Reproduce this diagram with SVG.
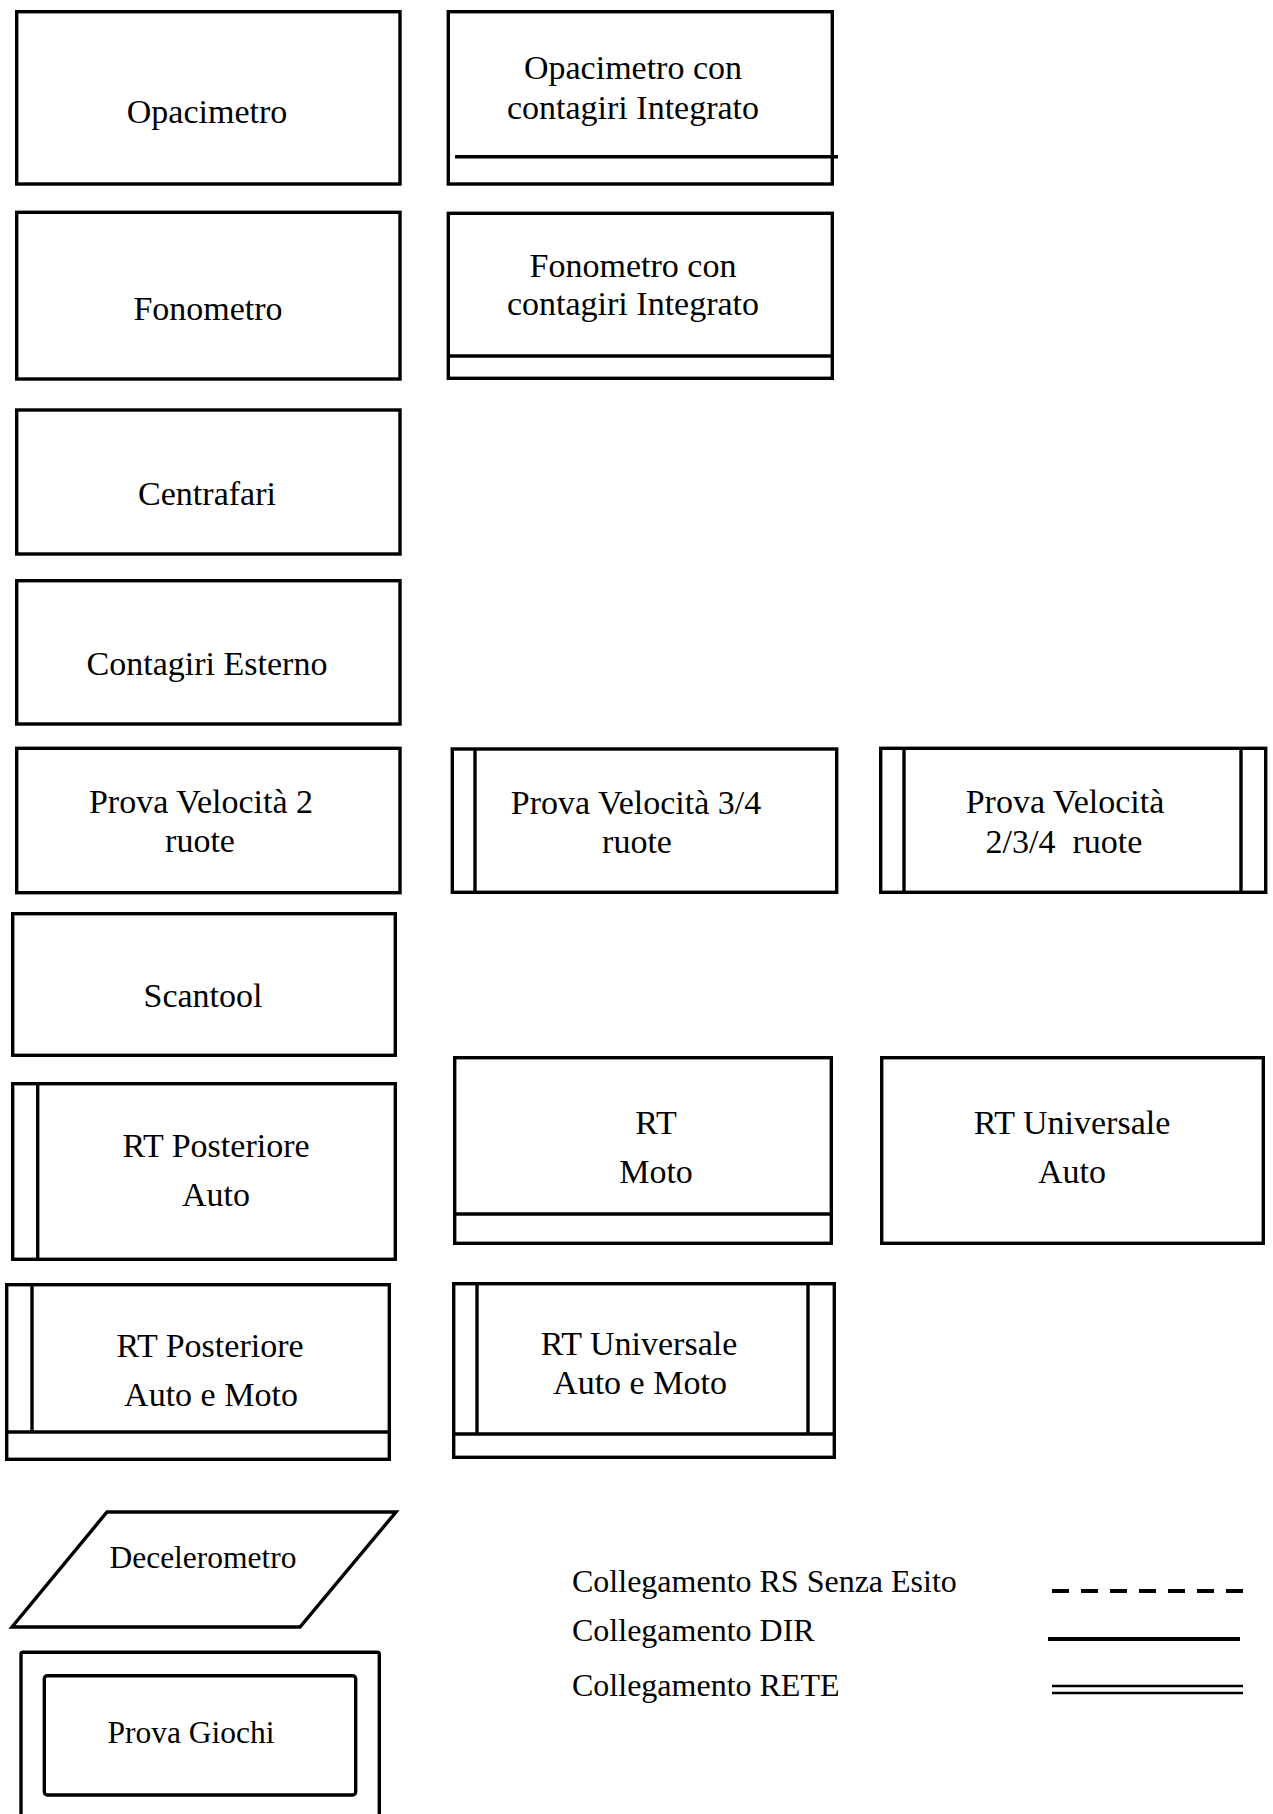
<svg xmlns="http://www.w3.org/2000/svg" width="1273" height="1814" viewBox="0 0 1273 1814">
<style>
.b{fill:#fff;stroke:#000;stroke-width:3.4}
.l{fill:none;stroke:#000;stroke-width:3.4}
.t{font-family:"Liberation Serif","Times New Roman",serif;font-size:34px;fill:#000;text-anchor:middle}
.s{font-size:31.5px}
.g{font-family:"Liberation Serif","Times New Roman",serif;font-size:32px;fill:#000}
</style>
<rect width="1273" height="1814" fill="#fff"/>
<g id="opacimetro">
<rect class="b" x="16.7" y="11.7" width="383.3" height="172.3"/>
<text class="t" x="207" y="123">Opacimetro</text>
</g>
<g id="opacimetro-contagiri">
<rect class="b" x="448.3" y="11.7" width="384" height="172.3"/>
<line class="l" x1="455" y1="156.7" x2="838" y2="156.7"/>
<text class="t" x="633" y="79">Opacimetro con</text>
<text class="t" x="633" y="119">contagiri Integrato</text>
</g>
<g id="fonometro">
<rect class="b" x="16.7" y="212.3" width="383.3" height="166.7"/>
<text class="t" x="208" y="320">Fonometro</text>
</g>
<g id="fonometro-contagiri">
<rect class="b" x="448.3" y="213.3" width="384" height="165"/>
<line class="l" x1="448.3" y1="356" x2="832.3" y2="356"/>
<text class="t" x="633" y="277">Fonometro con</text>
<text class="t" x="633" y="315">contagiri Integrato</text>
</g>
<g id="centrafari">
<rect class="b" x="16.7" y="410" width="383.3" height="144"/>
<text class="t" x="207" y="505">Centrafari</text>
</g>
<g id="contagiri-esterno">
<rect class="b" x="16.7" y="580.7" width="383.3" height="143.3"/>
<text class="t" x="207" y="675">Contagiri Esterno</text>
</g>
<g id="prova-velocita-2">
<rect class="b" x="16.7" y="748.3" width="383.3" height="144.4"/>
<text class="t" x="201" y="813">Prova Velocità 2</text>
<text class="t" x="200" y="852">ruote</text>
</g>
<g id="prova-velocita-34">
<rect class="b" x="452.3" y="749" width="384.4" height="143.3"/>
<line class="l" x1="475" y1="749" x2="475" y2="892.3"/>
<text class="t" x="636" y="814">Prova Velocità 3/4</text>
<text class="t" x="637" y="853">ruote</text>
</g>
<g id="prova-velocita-234">
<rect class="b" x="880.7" y="748.3" width="385" height="144"/>
<line class="l" x1="904" y1="748.3" x2="904" y2="892.3"/>
<line class="l" x1="1241" y1="748.3" x2="1241" y2="892.3"/>
<text class="t" x="1065" y="813">Prova Velocità</text>
<text class="t" x="1064" y="853" xml:space="preserve">2/3/4  ruote</text>
</g>
<g id="scantool">
<rect class="b" x="12.7" y="913.7" width="382.6" height="141.6"/>
<text class="t" x="203" y="1007">Scantool</text>
</g>
<g id="rt-posteriore-auto">
<rect class="b" x="12.7" y="1083.7" width="382.6" height="175.6"/>
<line class="l" x1="37.7" y1="1083.7" x2="37.7" y2="1259.3"/>
<text class="t" x="216" y="1157">RT Posteriore</text>
<text class="t" x="216" y="1206">Auto</text>
</g>
<g id="rt-moto">
<rect class="b" x="454.7" y="1057.7" width="376.6" height="185.6"/>
<line class="l" x1="454.7" y1="1214" x2="831.3" y2="1214"/>
<text class="t" x="656" y="1134">RT</text>
<text class="t" x="656" y="1183">Moto</text>
</g>
<g id="rt-universale-auto">
<rect class="b" x="881.7" y="1057.7" width="381.6" height="185.6"/>
<text class="t" x="1072" y="1134">RT Universale</text>
<text class="t" x="1072" y="1183">Auto</text>
</g>
<g id="rt-posteriore-auto-moto">
<rect class="b" x="6.7" y="1284.7" width="382.6" height="174.6"/>
<line class="l" x1="32" y1="1284.7" x2="32" y2="1432"/>
<line class="l" x1="6.7" y1="1432" x2="389.3" y2="1432"/>
<text class="t" x="210" y="1357">RT Posteriore</text>
<text class="t" x="211" y="1406">Auto e Moto</text>
</g>
<g id="rt-universale-auto-moto">
<rect class="b" x="453.7" y="1283.7" width="380.6" height="173.6"/>
<line class="l" x1="477" y1="1283.7" x2="477" y2="1434"/>
<line class="l" x1="808" y1="1283.7" x2="808" y2="1434"/>
<line class="l" x1="453.7" y1="1434" x2="834.3" y2="1434"/>
<text class="t" x="639" y="1355">RT Universale</text>
<text class="t" x="640" y="1394">Auto e Moto</text>
</g>
<g id="decelerometro">
<polygon class="b" points="107,1512 396,1512 300,1627 12,1627"/>
<text class="t s" x="203" y="1568">Decelerometro</text>
</g>
<g id="prova-giochi">
<rect class="b" x="21" y="1652.3" width="358.3" height="200" rx="2"/>
<rect class="b" x="44.3" y="1675.7" width="311.4" height="119.3" rx="3"/>
<text class="t s" x="191" y="1743">Prova Giochi</text>
</g>
<g id="legend">
<text class="g" x="572" y="1592">Collegamento RS Senza Esito</text>
<text class="g" x="572" y="1641">Collegamento DIR</text>
<text class="g" x="572" y="1696">Collegamento RETE</text>
<line x1="1052" y1="1591" x2="1243" y2="1591" stroke="#000" stroke-width="4" stroke-dasharray="17 12"/>
<line x1="1048" y1="1639" x2="1240" y2="1639" stroke="#000" stroke-width="4"/>
<line x1="1052" y1="1686" x2="1243" y2="1686" stroke="#000" stroke-width="2.6"/>
<line x1="1052" y1="1693" x2="1243" y2="1693" stroke="#000" stroke-width="2.6"/>
</g>
<g id="connectors"></g>
</svg>
